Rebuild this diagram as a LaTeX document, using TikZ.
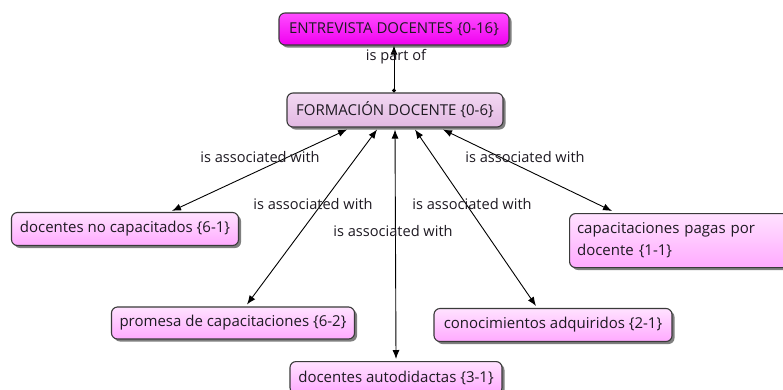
\documentclass[tikz,border=0pt]{standalone}
\usepackage{fontspec}
\setmainfont{Open Sans}
\usetikzlibrary{shadows,arrows.meta,calc}
\definecolor{txt}{HTML}{1E1A22}
\definecolor{bordc}{HTML}{3A3A3A}
\definecolor{magtop}{HTML}{FF4CFF}
\definecolor{magbot}{HTML}{F000F0}
\definecolor{frmtop}{HTML}{F2D8F2}
\definecolor{frmbot}{HTML}{E2B8E2}
\definecolor{chtop}{HTML}{FFE2FF}
\definecolor{chbot}{HTML}{FFAAFF}
\tikzset{
  concept/.style={draw=bordc, line width=1.1pt, rounded corners=6pt,
    text=txt, font=\fontsize{15}{18}\selectfont, inner sep=3pt,
    drop shadow={shadow xshift=2.5pt, shadow yshift=-2.5pt, fill=black, opacity=0.5}},
  rootbox/.style={concept, top color=magtop, bottom color=magbot},
  formbox/.style={concept, top color=frmtop, bottom color=frmbot},
  childbox/.style={concept, top color=chtop, bottom color=chbot},
  link/.style={line width=0.9pt, draw=black, {Latex[length=9pt,width=7pt]}-{Latex[length=9pt,width=7pt]}},
  lbl/.style={font=\fontsize{14.6}{17}\selectfont, text=txt, inner sep=0pt}
}
\begin{document}
\begin{tikzpicture}[x=1pt,y=-1pt]
\useasboundingbox (0,0) rectangle (783,389);
\fill[white] (0,0) rectangle (783,389);

\node[rootbox, minimum width=230pt, minimum height=32pt] (ent) at (394,29) {ENTREVISTA DOCENTES \{0-16\}};
\node[formbox, minimum width=216pt, minimum height=34pt] (form) at (395,110) {FORMACIÓN DOCENTE \{0-6\}};
\node[childbox, minimum width=227pt, minimum height=33pt] (dnc) at (125,229) {docentes no capacitados \{6-1\}};
\node[childbox, anchor=north west, minimum width=225pt, minimum height=54pt, text width=210pt, align=left, inner sep=5pt,
  font=\fontsize{15}{22}\selectfont] (cpp) at (569,213) {capacitaciones pagas por\\docente \{1-1\}};
\node[childbox, minimum width=243pt, minimum height=32pt] (prom) at (233,323) {promesa de capacitaciones \{6-2\}};
\node[childbox, minimum width=238pt, minimum height=33pt] (cono) at (553,325) {conocimientos adquiridos \{2-1\}};
\node[childbox, anchor=north, minimum width=212pt, minimum height=32pt] (auto) at (396,361) {docentes autodidactas \{3-1\}};

% is part of
\draw[line width=0.9pt, {Latex[length=9pt,width=7pt]}-{Circle[length=4pt]}] (ent.south) -- (ent.south |- form.north);
\node[lbl] (lpart) at (396,57) {is part of};

% associations
\draw[link] ($(form.south)+(-48,2)$) -- ($(dnc.north)+(47,-1)$);
\draw[link] ($(form.south)+(-18,2)$) -- ($(prom.north)+(14,-2)$);
\draw[link] ($(form.south)+(0,2)$) -- ($(auto.north)+(0,-2)$);
\draw[link] ($(form.south)+(20,2)$) -- ($(cono.north)+(-17,-2)$);
\draw[link] ($(form.south)+(48,2)$) -- ($(cpp.north west)+(43,-2)$);

\node[lbl] (l1) at (260,157) {is associated with};
\node[lbl] (l2) at (313,204) {is associated with};
\node[lbl] (l3) at (393,231) {is associated with};
\node[lbl] (l4) at (472,204) {is associated with};
\node[lbl] (l5) at (525,157) {is associated with};
\end{tikzpicture}
\end{document}
